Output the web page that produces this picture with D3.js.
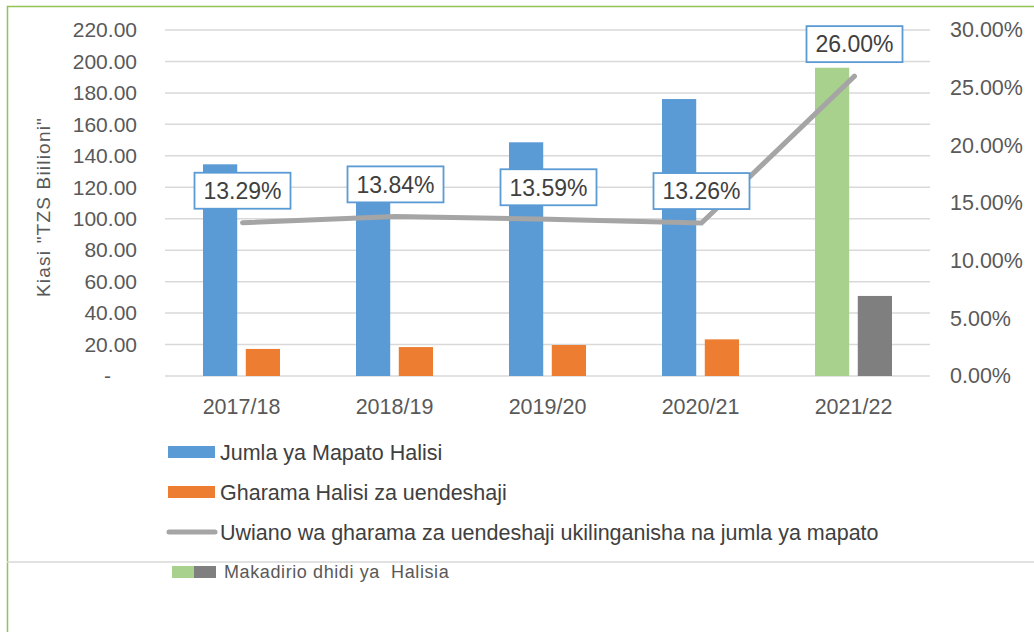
<!DOCTYPE html>
<html>
<head>
<meta charset="utf-8">
<script src="https://d3js.org/d3.v7.min.js"></script>
<style>
  body { margin: 0; background: #fff; }
  svg { display: block; font-family: "Liberation Sans", Arial, sans-serif; }
</style>
</head>
<body>
<svg></svg>
<script>
const years = ["2017/18", "2018/19", "2019/20", "2020/21", "2021/22"];
const revenue = [134.6, 130.0, 148.6, 176.1, 196.0];
const costs = [17.2, 18.4, 19.7, 23.3, 50.9];
const ratio = [13.29, 13.84, 13.59, 13.26, 26.00];
const leftTicks = [0, 20, 40, 60, 80, 100, 120, 140, 160, 180, 200, 220];
const rightTicks = [0, 5, 10, 15, 20, 25, 30];
const legendItems = [
  "Jumla ya Mapato Halisi",
  "Gharama Halisi za uendeshaji",
  "Uwiano wa gharama za uendeshaji ukilinganisha na jumla ya mapato"
];

const width = 1034, height = 632;
const plot = { left: 165, right: 930, top: 30, bottom: 376 };
const blue = "#5b9bd5", orange = "#ed7d31", green = "#a9d18e", dark = "#7f7f7f";
const font = "Liberation Sans, Arial, sans-serif";

const svg = d3.select("svg").attr("width", width).attr("height", height);

// outer frame (only top and left edges are inside the picture)
svg.append("path")
  .attr("d", `M7.5,${height} V6.5 H${width}`)
  .attr("fill", "none").attr("stroke", "#92c353").attr("stroke-width", 1.5);

const x = d3.scaleBand().domain(years).range([plot.left, plot.right]);
const y = d3.scaleLinear().domain([0, 220]).range([plot.bottom, plot.top]);
const y2 = d3.scaleLinear().domain([0, 30]).range([plot.bottom, plot.top]);

// grid
svg.append("g").selectAll("line").data(leftTicks).join("line")
  .attr("x1", plot.left).attr("x2", plot.right)
  .attr("y1", d => y(d)).attr("y2", d => y(d))
  .attr("stroke", "#d9d9d9").attr("stroke-width", 1.5);

// left axis
const yAxis = svg.append("g").attr("transform", "translate(137,0)")
  .call(d3.axisLeft(y).tickValues(leftTicks).tickSize(0).tickPadding(0)
    .tickFormat(d => d === 0 ? "-" : d3.format(".2f")(d)));
yAxis.select(".domain").remove();
yAxis.selectAll("text").attr("font-size", 21).attr("fill", "#595959").attr("font-family", font);
yAxis.selectAll("text").filter(d => d === 0).attr("dx", -26);

// right axis
const yAxis2 = svg.append("g").attr("transform", "translate(950,0)")
  .call(d3.axisRight(y2).tickValues(rightTicks).tickSize(0).tickPadding(0)
    .tickFormat(d => d3.format(".2f")(d) + "%"));
yAxis2.select(".domain").remove();
yAxis2.selectAll("text").attr("font-size", 21.5).attr("fill", "#595959").attr("font-family", font);

// x axis labels
const xAxis = svg.append("g").attr("transform", `translate(0,${plot.bottom})`)
  .call(d3.axisBottom(x).tickSize(0).tickPadding(22));
xAxis.select(".domain").remove();
xAxis.selectAll("text").attr("font-size", 21.5).attr("fill", "#595959")
  .attr("font-family", font).attr("dy", "0.32em").attr("y", 31);

// y title
svg.append("text")
  .attr("transform", "translate(50,207) rotate(-90)")
  .attr("text-anchor", "middle")
  .attr("font-size", 19).attr("letter-spacing", 1.2).attr("fill", "#595959")
  .text('Kiasi "TZS Biilioni"');

// bars
const inner = d3.scaleBand().domain([0, 1]).range([38, 115]).paddingInner(0.2);
const bars = svg.append("g");
years.forEach((yr, i) => {
  const est = i === years.length - 1;
  [revenue[i], costs[i]].forEach((v, j) => {
    bars.append("rect")
      .attr("x", x(yr) + inner(j))
      .attr("width", inner.bandwidth())
      .attr("y", y(v))
      .attr("height", y(0) - y(v))
      .attr("fill", est ? (j === 0 ? green : dark) : (j === 0 ? blue : orange));
  });
});

// ratio line
const cx = d => x(d) + x.bandwidth() / 2 + 1;
const line = d3.line().x((d, i) => cx(years[i])).y(d => y2(d));
svg.append("path").datum(ratio)
  .attr("d", line).attr("fill", "none")
  .attr("stroke", "#a5a5a5").attr("stroke-width", 5)
  .attr("stroke-linecap", "round").attr("stroke-linejoin", "miter");

// data labels
const labels = svg.append("g").selectAll("g").data(ratio).join("g")
  .attr("transform", (d, i) => `translate(${cx(years[i])},${y2(d) - 32})`);
labels.append("rect")
  .attr("x", -48).attr("y", -18).attr("width", 96).attr("height", 36)
  .attr("fill", "#fff").attr("stroke", blue).attr("stroke-width", 1.8);
labels.append("text")
  .attr("text-anchor", "middle").attr("dy", "0.36em")
  .attr("font-size", 23).attr("fill", "#404040")
  .text(d => d3.format(".2f")(d) + "%");

// legend
const leg = svg.append("g");
const legY = [452, 492, 532];
legendItems.forEach((t, i) => {
  if (i < 2) {
    leg.append("rect").attr("x", 168).attr("y", legY[i] - 6).attr("width", 47).attr("height", 12)
      .attr("fill", i === 0 ? blue : orange);
  } else {
    leg.append("line").attr("x1", 169).attr("x2", 215).attr("y1", legY[i]).attr("y2", legY[i])
      .attr("stroke", "#a5a5a5").attr("stroke-width", 5).attr("stroke-linecap", "round");
  }
  leg.append("text").attr("x", 220).attr("y", legY[i]).attr("dy", "0.35em")
    .attr("font-size", 21.5).attr("fill", "#404040").text(t);
});

// divider and estimate note
svg.append("line").attr("x1", 7).attr("x2", width).attr("y1", 562).attr("y2", 562)
  .attr("stroke", "#d9d9d9").attr("stroke-width", 1.5);
svg.append("rect").attr("x", 172).attr("y", 566).attr("width", 22).attr("height", 12).attr("fill", green);
svg.append("rect").attr("x", 194).attr("y", 566).attr("width", 22).attr("height", 12).attr("fill", dark);
svg.append("text").attr("x", 224).attr("y", 572).attr("dy", "0.35em")
  .attr("font-size", 18).attr("letter-spacing", 0.6).attr("fill", "#595959").attr("xml:space", "preserve")
  .text("Makadirio dhidi ya  Halisia");
</script>
</body>
</html>
